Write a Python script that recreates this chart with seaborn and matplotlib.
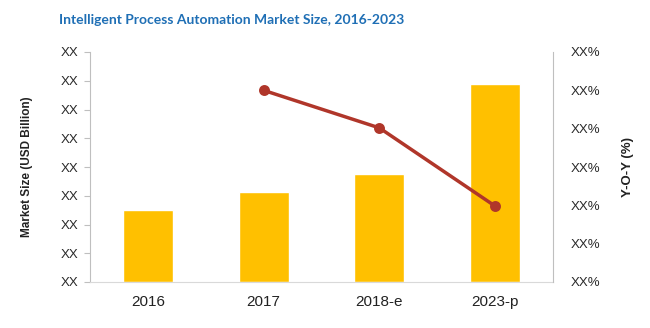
import matplotlib
matplotlib.use("Agg")
import matplotlib.pyplot as plt
import seaborn as sns
import pandas as pd
from matplotlib.ticker import FuncFormatter, MultipleLocator

categories = ["2016", "2017", "2018-e", "2023-p"]
market_size = [2.5, 3.13, 3.76, 6.89]
yoy_categories = ["2017", "2018-e", "2023-p"]
yoy_values = [5.0, 4.02, 1.98]
title_text = "Intelligent Process Automation Market Size, 2016-2023"

sns.set_style("white")
FONT = ["Liberation Sans", "DejaVu Sans"]
plt.rcParams["font.family"] = FONT

bars = pd.DataFrame({"Year": categories, "Size": market_size})
line = pd.DataFrame({"Year": yoy_categories, "YoY": yoy_values})

fig = plt.figure(figsize=(6.5, 3.28), dpi=100)
ax = fig.add_axes([90/650, 46/328, 463/650, 230/328])

sns.barplot(data=bars, x="Year", y="Size", order=categories, color="#FFC000",
            saturation=1, width=0.43, ax=ax)
ax.set_xlim(-0.5, 3.5)
ax.set_ylim(0, 8)
ax.yaxis.set_major_locator(MultipleLocator(1))
ax.yaxis.set_major_formatter(FuncFormatter(lambda v, p: "XX"))
ax.set_xlabel("")
ax.set_ylabel("Market Size (USD Billion)", fontsize=8.5, fontweight="bold",
              color="#222222")
ax.yaxis.set_label_coords((33 - 90) / 463, 0.5)
ax.tick_params(axis="y", which="major", left=True, length=4, width=0.8,
               color="#BFBFBF", labelsize=9.5, labelcolor="#2A2A2A", pad=4)
ax.tick_params(axis="x", bottom=False, labelsize=11, labelcolor="#222222", pad=6)
for s in ["top", "right"]:
    ax.spines[s].set_visible(False)
ax.spines["left"].set_color("#BFBFBF")
ax.spines["bottom"].set_color("#D9D9D9")

ax2 = ax.twinx()
sns.pointplot(data=line, x="Year", y="YoY", order=categories, color="#B0362A",
              markers="o", markersize=6, linewidth=2.5, ax=ax2)
ax2.set_xlim(-0.5, 3.5)
ax2.set_ylim(0, 6)
ax2.yaxis.set_major_locator(MultipleLocator(1))
ax2.yaxis.set_major_formatter(FuncFormatter(lambda v, p: "XX%"))
ax2.set_xlabel("")
ax2.set_ylabel("Y-O-Y (%)", fontsize=9.5, fontweight="bold", color="#222222")
ax2.yaxis.set_label_coords((622 - 90) / 463, 0.5)
ax2.tick_params(axis="y", right=False, labelsize=9.5, labelcolor="#2A2A2A", pad=9)
for s in ["top", "left", "bottom"]:
    ax2.spines[s].set_visible(False)
ax2.spines["right"].set_color("#BFBFBF")

fig.text(232/650, 1 - 20/328, title_text,
         ha="center", va="center", fontsize=10, fontweight="bold", color="#1F6FB5",
         family=["Lato", "DejaVu Sans"])

fig.savefig("out.png", dpi=100)
